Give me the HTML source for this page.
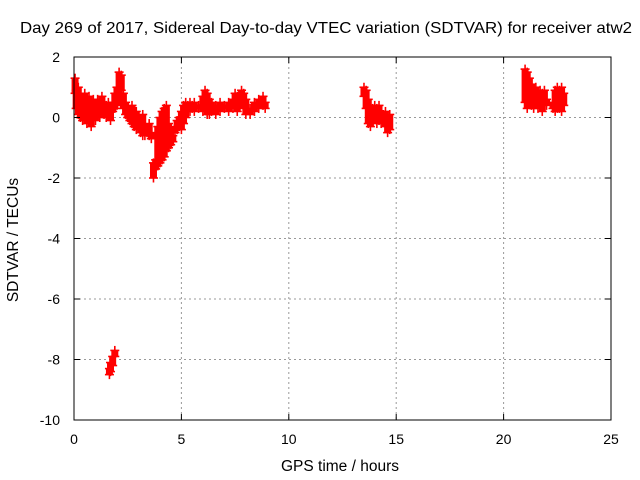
<!DOCTYPE html>
<html><head><meta charset="utf-8"><style>
body{margin:0;background:#fff;}
svg{display:block;font-family:"Liberation Sans",sans-serif;}
</style></head><body>
<svg id="chart" width="640" height="480">
<text x="20" y="33" font-size="16" textLength="612" lengthAdjust="spacingAndGlyphs">Day 269 of 2017, Sidereal Day-to-day VTEC variation (SDTVAR) for receiver atw2</text>
<text x="340" y="471" font-size="15.5" text-anchor="middle">GPS time / hours</text>
<text transform="translate(18,240) rotate(-90)" font-size="15.5" text-anchor="middle">SDTVAR / TECUs</text>
<g id="grid"></g>
<g id="marks"></g>
<rect x="74" y="57" width="537" height="363" fill="none" stroke="#000" stroke-width="1"/>
<g id="axes"></g>
</svg>
<script>
const xTicks=[0,5,10,15,20,25];
const yTicks=[2,0,-2,-4,-6,-8,-10];
const hours=[0.05,0.1,0.2,0.3,0.4,0.5,0.6,0.7,0.8,0.9,1.0,1.1,1.2,1.3,1.4,1.5,1.6,1.7,1.8,1.9,2.0,2.1,2.2,2.3,2.4,2.5,2.6,2.7,2.8,2.9,3.0,3.1,3.2,3.3,3.4,3.5,3.6,3.7,3.8,3.9,4.0,4.1,4.2,4.3,4.4,4.5,4.6,4.7,4.8,4.9,5.0,5.1,5.2,5.3,5.4,5.5,5.6,5.8,6.0,6.1,6.2,6.3,6.4,6.6,6.8,7.0,7.2,7.4,7.5,7.6,7.8,7.9,8.0,8.2,8.4,8.6,8.8,8.9,
1.65,1.7,1.8,1.9,
13.5,13.6,13.7,13.8,13.9,14.0,14.1,14.2,14.3,14.4,14.5,14.6,14.7,
21.0,21.1,21.2,21.3,21.4,21.5,21.6,21.7,21.8,21.9,22.0,22.3,22.4,22.5,22.6,22.7,22.8];
const highs=[1.3,0.9,1.0,0.7,0.5,0.8,0.6,0.7,0.5,0.6,0.4,0.6,0.5,0.7,0.5,0.4,0.5,0.3,0.5,0.8,1.0,1.5,1.4,0.8,0.5,0.3,0.2,0.4,0.1,0.2,0.0,-0.2,0.1,-0.3,-0.4,-0.2,-0.5,-1.5,-1.4,-0.3,0.0,0.2,0.3,0.4,-0.2,-0.4,-0.6,-0.3,-0.1,0.0,0.2,0.4,0.5,0.4,0.5,0.4,0.5,0.4,0.7,0.9,0.8,0.6,0.5,0.4,0.5,0.4,0.5,0.6,0.8,0.7,0.9,0.8,0.6,0.3,0.5,0.6,0.7,0.5,
-8.3,-8.1,-7.9,-7.7,
1.0,0.9,0.6,0.4,0.3,0.4,0.3,0.4,0.2,0.1,0.2,0.0,0.1,
1.6,1.5,1.3,1.1,0.9,1.0,0.8,0.9,0.8,0.9,0.6,0.5,0.9,1.0,0.9,1.0,0.8];
const lows=[0.8,0.3,0.1,0.0,-0.1,0.2,-0.2,0.1,-0.3,0.0,-0.1,0.2,0.0,0.3,0.1,0.0,0.1,-0.1,0.2,0.3,0.4,0.6,0.9,0.3,0.1,0.0,-0.1,-0.2,-0.3,-0.4,-0.3,-0.5,-0.6,-0.6,-0.5,-0.6,-0.7,-2.0,-1.7,-1.6,-1.5,-1.4,-1.3,-1.1,-1.0,-0.9,-0.8,-0.5,-0.4,-0.3,-0.4,-0.2,0.0,0.2,0.2,0.3,0.2,0.3,0.2,0.3,0.1,0.1,0.2,0.1,0.2,0.3,0.2,0.3,0.4,0.2,0.5,0.3,0.1,0.1,0.2,0.3,0.4,0.3,
-8.5,-8.4,-8.2,-7.9,
0.7,0.3,-0.2,-0.3,-0.1,0.0,-0.2,-0.1,-0.2,-0.1,-0.3,-0.5,-0.4,
0.5,0.3,0.6,0.4,0.3,0.5,0.3,0.4,0.2,0.5,0.4,0.3,0.2,0.3,0.3,0.2,0.4];
const NS="http://www.w3.org/2000/svg";
const X0=74,X1=611,Y0=57,Y1=420;
function xs(t){return X0+(t-0)/(25-0)*(X1-X0);}
function ys(v){return Y0+(2-v)/(2-(-10))*(Y1-Y0);}
function mk(tag,attrs,parent){const e=document.createElementNS(NS,tag);for(const k in attrs)e.setAttribute(k,attrs[k]);parent.appendChild(e);return e;}
const grid=document.getElementById('grid'),axes=document.getElementById('axes'),marks=document.getElementById('marks');
xTicks.forEach(t=>{
  const x=xs(t);
  if(t>0&&t<25){const l=mk('line',{x1:x,x2:x,y1:Y0,y2:Y1,stroke:'#999','stroke-dasharray':'2,3'},grid);
  
  }
  mk('line',{x1:x,x2:x,y1:Y1,y2:Y1-6,stroke:'#000'},axes);
  mk('line',{x1:x,x2:x,y1:Y0,y2:Y0+6,stroke:'#000'},axes);
  const tx=mk('text',{x:x,y:Y1+24,'font-size':'14','text-anchor':'middle'},axes);
  tx.textContent=t;
  
  
});
yTicks.forEach(v=>{
  const y=ys(v);
  if(v<2&&v>-10){const l=mk('line',{x1:X0,x2:X1,y1:y,y2:y,stroke:'#999','stroke-dasharray':'2,3'},grid);
  
  }
  mk('line',{x1:X0,x2:X0+6,y1:y,y2:y,stroke:'#000'},axes);
  mk('line',{x1:X1,x2:X1-6,y1:y,y2:y,stroke:'#000'},axes);
  const tx=mk('text',{x:X0-14,y:y+5,'font-size':'14','text-anchor':'end'},axes);
  tx.textContent=v;
  
  
});
hours.forEach((t,i)=>{
  const x=xs(t),yh=ys(highs[i]),yl=ys(lows[i]);
  const g=mk('g',{stroke:'#f00','stroke-width':'1.6'},marks);
  
  
  mk('rect',{x:x-3.5,y:yh,width:7,height:Math.max(0,yl-yh),fill:'#f00',stroke:'none'},g);
  [yh,yl].forEach(y=>{
    mk('line',{x1:x-4.5,x2:x+4.5,y1:y,y2:y},g);
    mk('line',{x1:x,x2:x,y1:y-4.5,y2:y+4.5},g);
  });
});
</script>
</body></html>
